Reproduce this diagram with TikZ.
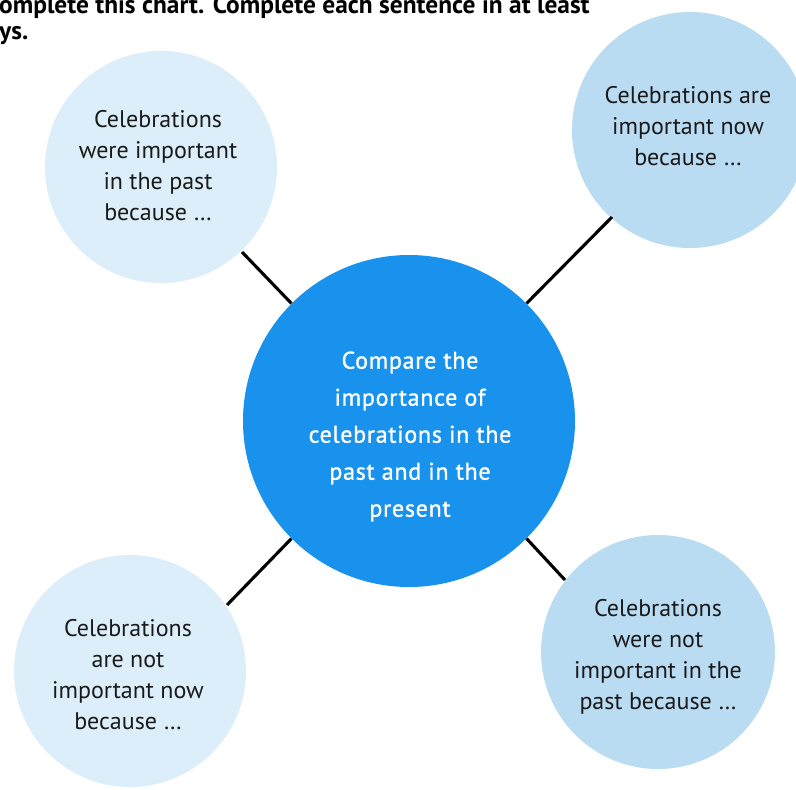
\documentclass[tikz,border=0pt]{standalone}
\usepackage{fontspec}
\setmainfont{PT Sans}
\newfontfamily\ctrfont[FakeBold=1.2,LetterSpace=3]{PT Sans}
\definecolor{ctrblue}{HTML}{1892EC}
\definecolor{paleblue}{HTML}{DCEEF9}
\definecolor{midblue}{HTML}{BADCF3}
\definecolor{inkblack}{HTML}{1A1A1A}
\tikzset{
  bubble/.style={circle, inner sep=0pt, draw=none},
  bubbletext/.style={align=center, text=inkblack, font=\fontsize{24}{31}\selectfont, inner sep=0pt},
  centretext/.style={align=center, text=white, font=\ctrfont\fontsize{24}{37}\selectfont, inner sep=0pt},
  link/.style={line width=3.1pt, draw=black},
  headtext/.style={font=\bfseries\fontsize{25.4}{26}\selectfont, text=black, inner sep=0pt}
}
\begin{document}
\begin{tikzpicture}[x=1pt,y=-1pt]
\useasboundingbox (0,0) rectangle (796,790);
\clip (0,0) rectangle (796,790);
\fill[white] (0,0) rectangle (796,790);

% heading (cropped in reference)
\node[headtext, anchor=base west] (head1) at (-1,13) {omplete this chart. Complete each sentence in at least};
\node[headtext, anchor=base west] (head2) at (-1,39) {ys.};

% circles
\node[bubble, fill=paleblue, minimum size=232pt] (tl) at (161,167) {};
\node[bubble, fill=midblue, minimum size=236pt] (tr) at (690,130) {};
\node[bubble, fill=paleblue, minimum size=232pt] (bl) at (130,671) {};
\node[bubble, fill=midblue, minimum size=234pt] (br) at (658,652) {};
\node[bubble, fill=ctrblue, minimum size=332pt] (c) at (409,421) {};

% connector ends on outer circles
\coordinate (tlend) at (242,252);
\coordinate (trend) at (612,217);
\coordinate (blend) at (227,605);
\coordinate (brend) at (565,580);

\draw[link] (c.135) -- (tlend);
\draw[link] (c.45) -- (trend);
\draw[link] (c.225) -- (blend);
\draw[link] (c.-45) -- (brend);

% texts
\node[bubbletext] (tltext) at (158,166) {Celebrations\\were important\\in the past\\because \dots};
\node[bubbletext] (trtext) at (688,126) {Celebrations are\\important now\\because \dots};
\node[bubbletext] (bltext) at (128,675) {Celebrations\\are not\\important now\\because \dots};
\node[bubbletext] (brtext) at (658,657) {Celebrations\\were not\\important in the\\past because \dots};
\node[centretext] (ctext) at (410,436.5) {Compare the\\importance of\\celebrations in the\\past and in the\\present};
\end{tikzpicture}
\end{document}
